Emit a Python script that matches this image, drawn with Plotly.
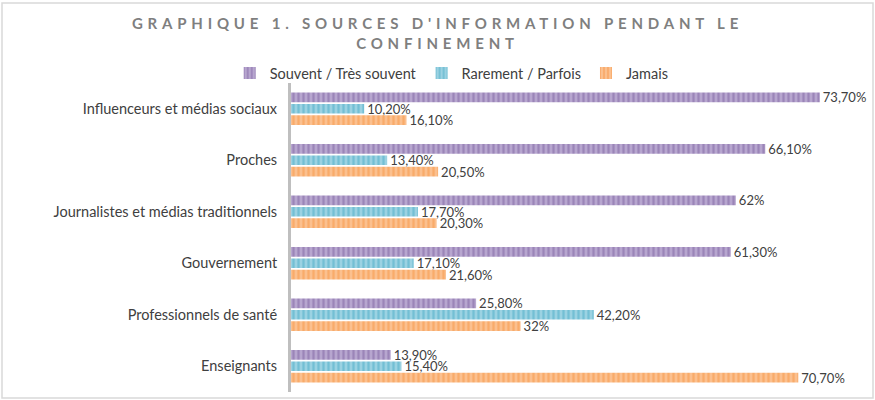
import plotly.graph_objects as go

categories = ["Influenceurs et médias sociaux", "Proches", "Journalistes et médias traditionnels",
              "Gouvernement", "Professionnels de santé", "Enseignants"]
souvent = [73.7, 66.1, 62.0, 61.3, 25.8, 13.9]
rarement = [10.2, 13.4, 17.7, 17.1, 42.2, 15.4]
jamais = [16.1, 20.5, 20.3, 21.6, 32.0, 70.7]


def fmt(v):
    if float(v).is_integer():
        return f"{int(v)}%"
    return f"{v:.2f}%".replace(".", ",")


series = [
    ("Souvent / Très souvent", souvent, "#8064A2", "#B7A6CF"),
    ("Rarement / Parfois", rarement, "#4BACC6", "#9BD2E2"),
    ("Jamais", jamais, "#F79646", "#FBC08F"),
]

fig = go.Figure()
for name, vals, dark, light in series:
    fig.add_trace(go.Bar(
        y=categories, x=vals, name=name, orientation="h",
        marker=dict(color=light, line=dict(width=0),
                    pattern=dict(shape="|", fgcolor=dark, bgcolor=light, size=5, solidity=0.45)),
        text=[fmt(v) for v in vals], textposition="outside", constraintext="none",
        textfont=dict(size=13, color="#404040"), cliponaxis=False,
    ))

L, R, T, B = 291, 10, 83, 8
W, H = 875, 400
pw, ph = W - L - R, H - T - B

title = ("<span style='letter-spacing:4.8px'>GRAPHIQUE 1. SOURCES D'INFORMATION PENDANT LE<br>"
         "CONFINEMENT</span>")

fig.update_layout(
    width=W, height=H,
    margin=dict(l=L, r=R, t=T, b=B, autoexpand=False),
    paper_bgcolor="white", plot_bgcolor="white",
    font=dict(family="Lato", size=14.5, color="#404040"),
    barmode="group", bargap=0.34, bargroupgap=0.15,
    title=dict(text=title, x=0.5, xanchor="center", y=0.927, yanchor="top",
               font=dict(family="Lato", size=15, color="#7F7F7F", weight="bold")),
    legend=dict(orientation="h", x=0.28, xanchor="center", y=1.032, yanchor="middle",
                font=dict(size=14.5, color="#404040"), traceorder="normal",
                itemwidth=30, bgcolor="rgba(0,0,0,0)"),
    xaxis=dict(range=[0, 80], visible=False, showgrid=False, automargin=False),
    yaxis=dict(autorange="reversed", showline=True, linecolor="#BFBFBF", linewidth=3,
               ticks="", ticklabelstandoff=8, showgrid=False, automargin=False,
               tickfont=dict(size=14.5, color="#404040")),
    showlegend=True,
)

fig.add_shape(type="rect", xref="paper", yref="paper",
              x0=(2 - L) / pw, x1=(873 - L) / pw,
              y0=(H - B - 398) / ph, y1=(H - B - 3) / ph,
              line=dict(color="#D9D9D9", width=1.5), fillcolor="rgba(0,0,0,0)", layer="below")

fig.write_html("out.html", config={"displayModeBar": False},
               post_script="document.body.style.margin='0';")
